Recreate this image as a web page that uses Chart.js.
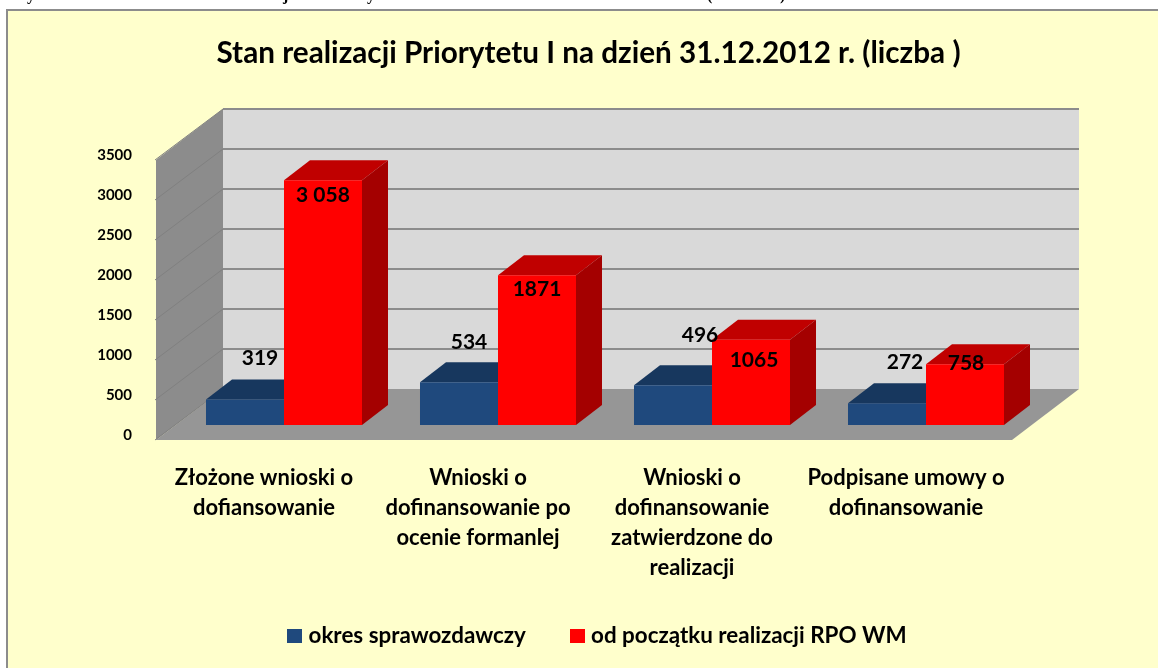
<!DOCTYPE html>
<html lang="pl">
<head>
<meta charset="utf-8">
<title>Stan realizacji Priorytetu I</title>
<style>html,body{margin:0;padding:0;background:#fff}#wrap{width:1158px;height:668px}canvas{display:block}</style>
<script src="https://cdn.jsdelivr.net/npm/chart.js@4/dist/chart.umd.min.js"></script>
</head>
<body>
<div id="wrap"><canvas id="c" width="1158" height="668"></canvas></div>
<script>
const categories = [
  ['Złożone wnioski o', 'dofiansowanie'],
  ['Wnioski o', 'dofinansowanie po', 'ocenie formanlej'],
  ['Wnioski o', 'dofinansowanie', 'zatwierdzone do', 'realizacji'],
  ['Podpisane umowy o', 'dofinansowanie']
];
const seriesNames = ['okres sprawozdawczy', 'od początku realizacji RPO WM'];
const okresValues = [319, 534, 496, 272];
const calosciValues = [3058, 1871, 1065, 758];
const okresLabels = ['319', '534', '496', '272'];
const calosciLabels = ['3 058', '1871', '1065', '758'];
const yTicks = [0, 500, 1000, 1500, 2000, 2500, 3000, 3500];
const titleText = 'Stan realizacji Priorytetu I na dzień 31.12.2012 r. (liczba )';

const FONT = 'Lato, Carlito, Calibri, sans-serif';
const BLUE = '#1f497d', BLUE_TOP = '#17375e', BLUE_SIDE = '#17375e';
const RED = '#ff0000', RED_TOP = '#c00000', RED_SIDE = '#a40000';
const PAPER = '#ffffcc', EDGE = '#8c8c8c';
const WALL = '#8c8c8c', FLOOR = '#969696', BACK = '#d9d9d9', GRID = '#8c8c8c';

// offsets of the drawing planes relative to the plane the bars stand in
const FRONT = {dx: -21, dy: 15}, REAR = {dx: 46, dy: -36}, BAR_DEPTH = {dx: 26, dy: -20};
// manual data-label placement, relative to the centre of each bar top
const labelShift = [
  [[15, -41], [10, -40], [27, -50], [18, -41]],
  [[0, 15], [0, 14], [3, 20], [1, -1]]
];
const clippedGlyphs = [['y', 27], ['j', 283], ['y', 367], ['(', 707], [')', 780]];

function poly(ctx, pts, fill) {
  ctx.beginPath();
  pts.forEach((p, i) => i ? ctx.lineTo(p[0], p[1]) : ctx.moveTo(p[0], p[1]));
  ctx.closePath();
  ctx.fillStyle = fill;
  ctx.fill();
}

const scene = {
  id: 'scene',
  afterLayout(chart) {
    chart.titleBlock.left = 19; chart.titleBlock.right = 1158;
    const lg = chart.legend;
    lg.left = 41; lg.right = 1158; lg.top -= 11.3; lg.bottom -= 11.3;
  },
  beforeDraw(chart) {
    const ctx = chart.ctx;
    ctx.save();
    ctx.fillStyle = '#ffffff';
    ctx.fillRect(0, 0, 1158, 668);
    ctx.fillStyle = '#000000';
    ctx.font = 'bold 16px "Liberation Serif", serif';
    ctx.textBaseline = 'alphabetic';
    clippedGlyphs.forEach(g => ctx.fillText(g[0], g[1], 0));
    ctx.fillStyle = PAPER;
    ctx.fillRect(7, 9, 1151, 659);
    ctx.strokeStyle = EDGE;
    ctx.lineWidth = 2;
    ctx.beginPath();
    ctx.moveTo(7, 668); ctx.lineTo(7, 10); ctx.lineTo(1158, 10);
    ctx.stroke();
    ctx.restore();
  },
  beforeDatasetsDraw(chart) {
    const ctx = chart.ctx, y = chart.scales.y, area = chart.chartArea;
    const L = area.left, R = area.right, y0 = y.getPixelForValue(0), yMax = y.getPixelForValue(3500);
    ctx.save();
    poly(ctx, [[L + REAR.dx, yMax + REAR.dy], [R + REAR.dx, yMax + REAR.dy], [R + REAR.dx, y0 + REAR.dy], [L + REAR.dx, y0 + REAR.dy]], BACK);
    poly(ctx, [[L + FRONT.dx, yMax + FRONT.dy], [L + REAR.dx, yMax + REAR.dy], [L + REAR.dx, y0 + REAR.dy], [L + FRONT.dx, y0 + FRONT.dy]], WALL);
    poly(ctx, [[L + FRONT.dx, y0 + FRONT.dy], [R + FRONT.dx, y0 + FRONT.dy], [R + REAR.dx, y0 + REAR.dy], [L + REAR.dx, y0 + REAR.dy]], FLOOR);
    yTicks.forEach(v => {
      const p = y.getPixelForValue(v);
      ctx.lineWidth = 2;
      if (v > 0) {
        ctx.strokeStyle = GRID;
        ctx.beginPath();
        ctx.moveTo(L + REAR.dx, p + REAR.dy);
        ctx.lineTo(R + REAR.dx, p + REAR.dy);
        ctx.stroke();
      }
      ctx.lineWidth = 1;
      ctx.strokeStyle = '#808080';
      ctx.beginPath();
      ctx.moveTo(L + FRONT.dx - 1, p + FRONT.dy);
      ctx.lineTo(L + REAR.dx, p + REAR.dy);
      ctx.stroke();
    });
    const tops = [BLUE_TOP, RED_TOP], sides = [BLUE_SIDE, RED_SIDE];
    [0, 1].forEach(d => {
      chart.getDatasetMeta(d).data.forEach(bar => {
        const p = bar.getProps(['x', 'y', 'base', 'width'], true);
        const a = p.x - p.width / 2, b = p.x + p.width / 2;
        const dx = BAR_DEPTH.dx, dy = BAR_DEPTH.dy;
        poly(ctx, [[a, p.y], [b, p.y], [b + dx, p.y + dy], [a + dx, p.y + dy]], tops[d]);
        poly(ctx, [[b, p.y], [b + dx, p.y + dy], [b + dx, p.base + dy], [b, p.base]], sides[d]);
      });
    });
    ctx.restore();
  },
  afterDatasetsDraw(chart) {
    const ctx = chart.ctx;
    const text = [okresLabels, calosciLabels];
    ctx.save();
    ctx.fillStyle = '#000000';
    ctx.font = 'bold 21px ' + FONT;
    ctx.textAlign = 'center';
    ctx.textBaseline = 'middle';
    [0, 1].forEach(d => {
      chart.getDatasetMeta(d).data.forEach((bar, i) => {
        const p = bar.getProps(['x', 'y'], true);
        ctx.fillText(text[d][i], p.x + labelShift[d][i][0], p.y + labelShift[d][i][1]);
      });
    });
    ctx.restore();
  }
};

const markers = [BLUE, RED].map(col => {
  const m = document.createElement('canvas');
  m.width = 15; m.height = 14;
  const g = m.getContext('2d');
  g.fillStyle = col;
  g.fillRect(0, 0, 15, 14);
  return m;
});

new Chart(document.getElementById('c'), {
  type: 'bar',
  data: {
    labels: categories,
    datasets: [
      {label: seriesNames[0], data: okresValues, backgroundColor: BLUE},
      {label: seriesNames[1], data: calosciValues, backgroundColor: RED}
    ]
  },
  options: {
    responsive: false,
    animation: false,
    layout: {padding: {left: 0, right: 125, top: 0, bottom: 0}},
    datasets: {bar: {barPercentage: 1, categoryPercentage: 0.729}},
    plugins: {
      tooltip: {enabled: false},
      title: {
        display: true,
        text: titleText,
        color: '#000000',
        font: {family: FONT, size: 29.7, weight: 'bold', lineHeight: 1.2},
        padding: {top: 36, bottom: 73.36}
      },
      legend: {
        display: true,
        position: 'bottom',
        labels: {
          color: '#000000',
          font: {family: FONT, size: 22.4, weight: 'bold'},
          usePointStyle: true,
          boxWidth: 5,
          boxHeight: 14,
          padding: 49,
          generateLabels(chart) {
            return Chart.defaults.plugins.legend.labels.generateLabels(chart)
              .map((l, i) => Object.assign(l, {pointStyle: markers[i]}));
          }
        }
      }
    },
    scales: {
      x: {
        type: 'category',
        afterFit(s) { s.height = 161.6; },
        grid: {display: false, drawTicks: false},
        border: {display: false},
        ticks: {
          color: '#000000',
          font: {family: FONT, size: 22, weight: 'bold', lineHeight: 1.36},
          padding: 38,
          labelOffset: -20,
          maxRotation: 0,
          minRotation: 0,
          autoSkip: false
        }
      },
      y: {
        type: 'linear',
        min: 0,
        max: 3500,
        afterFit(s) { s.width = 177; },
        afterBuildTicks(s) { s.ticks = yTicks.map(v => ({value: v})); },
        grid: {display: false, drawTicks: false},
        border: {display: false},
        ticks: {
          color: '#000000',
          font: {family: FONT, size: 15, weight: 'bold'},
          padding: 45,
          labelOffset: 10.5,
          autoSkip: false,
          callback: v => String(v)
        }
      }
    }
  },
  plugins: [scene]
});
</script>
</body>
</html>
